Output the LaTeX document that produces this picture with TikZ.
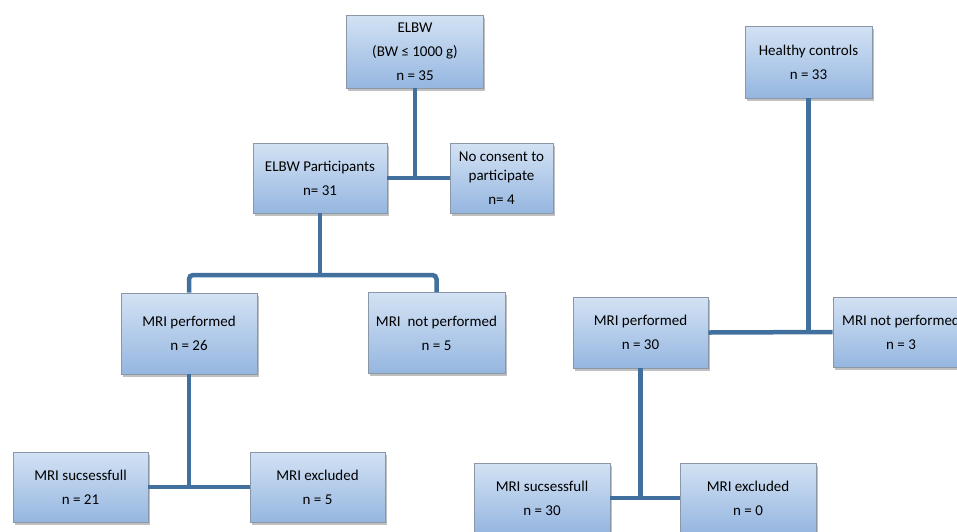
\documentclass[tikz,border=0pt]{standalone}
\usepackage{fontspec}
\setmainfont{Carlito}
\usetikzlibrary{shadows,positioning}
\definecolor{boxtop}{HTML}{D3E2F4}
\definecolor{boxbot}{HTML}{95B6E0}
\definecolor{boxline}{HTML}{8A97A6}
\definecolor{linkblue}{HTML}{41709F}

\tikzset{
  flowbox/.style={rectangle, draw=boxline, line width=0.8pt,
    top color=boxtop, bottom color=boxbot, align=center,
    font=\fontsize{15}{24}\selectfont, inner sep=2pt,
    drop shadow={shadow xshift=1.5pt, shadow yshift=-2.5pt, fill=black!45, opacity=.55}},
  link/.style={draw=linkblue, line width=4.5pt}
}

\begin{document}
\begin{tikzpicture}[x=1pt, y=-1pt]
    \useasboundingbox (0,0) rectangle (957,531);
    % ELBW branch
    \node[flowbox, minimum width=137, minimum height=73] (elbw) at (415,51.5) {ELBW\\(BW ≤ 1000 g)\\n = 35};
    \node[flowbox, minimum width=134, minimum height=70] (part) at (320,178) {ELBW Participants\\n= 31};
    \node[flowbox, minimum width=103, minimum height=70] (nocons) at (501.5,178) {No consent to\\[-5pt] participate\\n= 4};
    \node[flowbox, minimum width=136, minimum height=81] (mriL) at (189,333.5) {MRI performed\\n = 26};
    \node[flowbox, minimum width=137, minimum height=81] (notL) at (436.5,333) {MRI\ \ not performed\\n = 5};
    \node[flowbox, minimum width=135, minimum height=70] (succL) at (80.5,487) {MRI sucsessfull\\n = 21};
    \node[flowbox, minimum width=135, minimum height=70] (exclL) at (317.5,487) {MRI excluded\\n = 5};
    % controls branch
    \node[flowbox, minimum width=127, minimum height=72] (healthy) at (808.5,62) {Healthy controls\\n = 33};
    \node[flowbox, minimum width=135, minimum height=71] (mriR) at (640.5,332.5) {MRI performed\\n = 30};
    \node[flowbox, minimum width=136, minimum height=70] (notR) at (901,332) {MRI not performed\\n = 3};
    \node[flowbox, minimum width=136, minimum height=70] (succR) at (542,498) {MRI sucsessfull\\n = 30};
    \node[flowbox, minimum width=136, minimum height=70] (exclR) at (748,498) {MRI excluded\\n = 0};

    \coordinate (jA) at (part.south |- 0,275);

    \draw[link] (elbw.south) -- (elbw.south |- part.east);
    \draw[link] (part.east) -- (nocons.west);
    \draw[link] (part.south) -- (jA);
    \draw[link, rounded corners=4pt] (mriL.north) |- (jA) -| (notL.north);
    \draw[link] (mriL.south) -- (mriL.south |- succL.east);
    \draw[link] (succL.east) -- (exclL.west);
    \draw[link] (healthy.south) -- (healthy.south |- mriR.east);
    \draw[link] (mriR.east) -- (notR.west);
    \draw[link] (mriR.south) -- (mriR.south |- succR.east);
    \draw[link] (succR.east) -- (exclR.west);
\end{tikzpicture}
\end{document}
